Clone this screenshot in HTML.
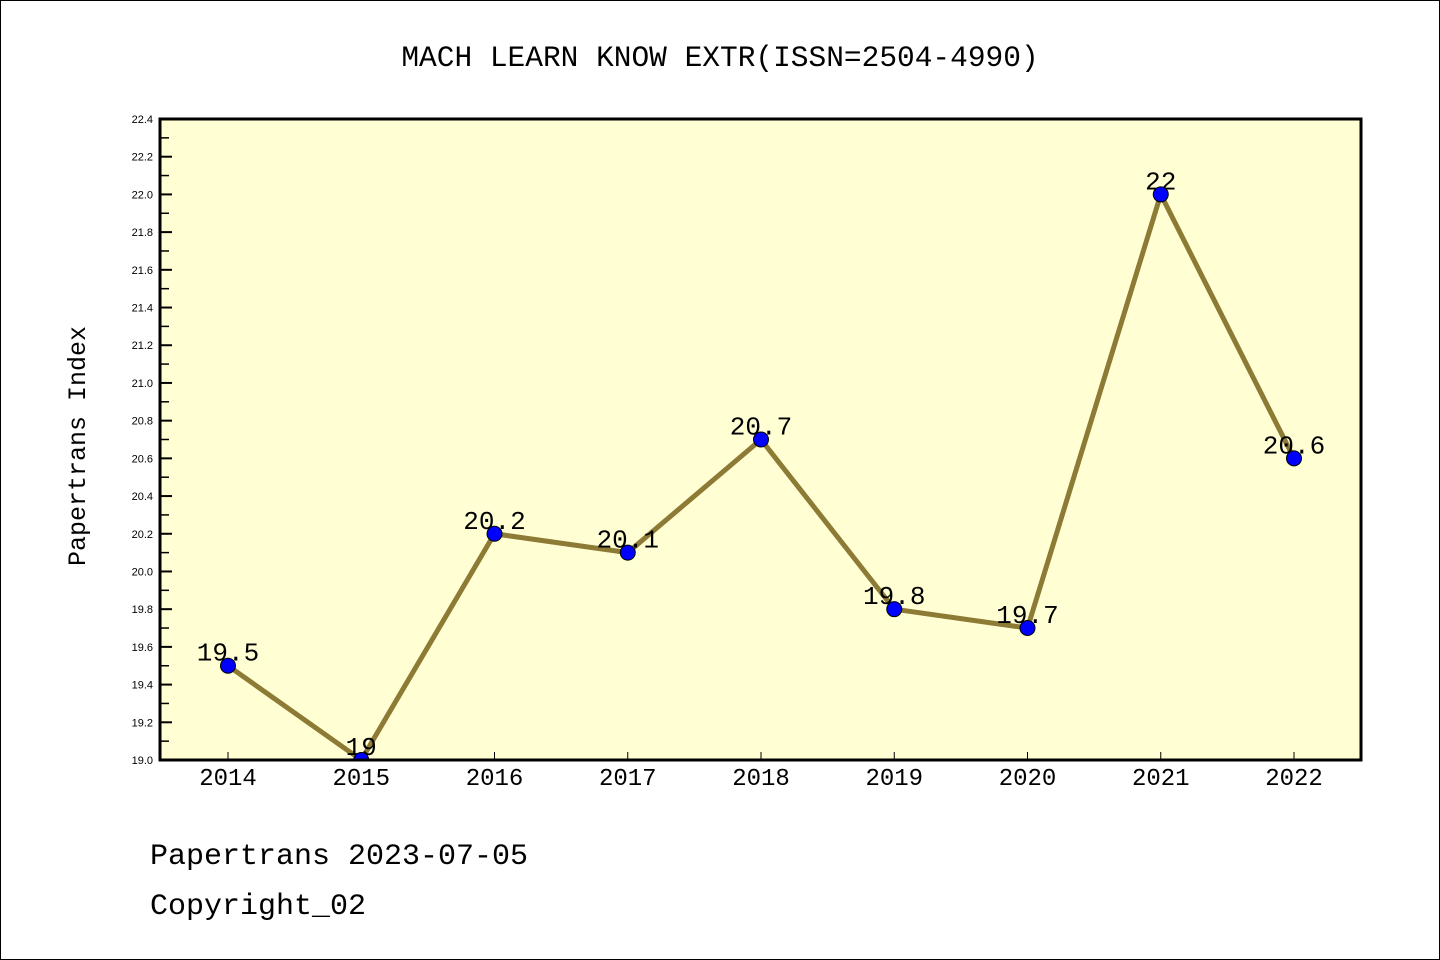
<!DOCTYPE html>
<html><head><meta charset="utf-8"><style>body{margin:0;background:#fff}svg{display:block}text{font-family:"Liberation Mono","DejaVu Sans Mono",monospace}text.sans{font-family:"Liberation Sans","DejaVu Sans",sans-serif}</style></head>
<body>
<svg id="chart" width="1440" height="960">
<rect x="0.5" y="0.5" width="1439" height="959" fill="#fff" stroke="#000"/>
<text x="720" y="66" font-size="29.5" text-anchor="middle">MACH LEARN KNOW EXTR(ISSN=2504-4990)</text>
<defs><clipPath id="pc"><rect x="160" y="119" width="1201" height="641"/></clipPath></defs>
<rect x="160" y="119" width="1201" height="641" fill="#ffffd3"/>
<g id="ticks"></g>
<g id="series" clip-path="url(#pc)"></g>
<rect x="160" y="119" width="1201" height="641" fill="none" stroke="#000" stroke-width="3"/>
<text transform="translate(85,446) rotate(-90)" font-size="25" text-anchor="middle">Papertrans Index</text>
<text x="150" y="864" font-size="30">Papertrans 2023-07-05</text>
<text x="150" y="914" font-size="30">Copyright_02</text>
</svg>
<script>
const years=[2014,2015,2016,2017,2018,2019,2020,2021,2022];
const values=[19.5,19.0,20.2,20.1,20.7,19.8,19.7,22.0,20.6];
const labels=["19.5","19","20.2","20.1","20.7","19.8","19.7","22","20.6"];
const yTicks=[19.0,19.2,19.4,19.6,19.8,20.0,20.2,20.4,20.6,20.8,21.0,21.2,21.4,21.6,21.8,22.0,22.2,22.4];
const yMin=19.0,yMax=22.4;
const NS="http://www.w3.org/2000/svg";
const sx=i=>228+i*(1294-228)/(years.length-1);
const sy=v=>760-(v-yMin)/(yMax-yMin)*641;
function mk(t,a,p){const e=document.createElementNS(NS,t);for(const k in a)e.setAttribute(k,a[k]);p.appendChild(e);return e;}
const tg=document.getElementById('ticks'),sg=document.getElementById('series');
yTicks.forEach((v,i)=>{
 const y=sy(v);
 const t=mk('line',{x1:160,x2:172,y1:y,y2:y,stroke:'#000','stroke-width':2},tg);
 
 
 const l=mk('text',{x:153,y:y+4,'font-size':11,'text-anchor':'end',class:'sans'},tg);l.textContent=v.toFixed(1);
 
 
 if(i<yTicks.length-1){const ym=sy(v+0.1);
 const m=mk('line',{x1:160,x2:169,y1:ym,y2:ym,stroke:'#000','stroke-width':1.5},tg);
 
 }
});
years.forEach((yr,i)=>{
 const x=sx(i);
 const t=mk('line',{x1:x,x2:x,y1:760,y2:752,stroke:'#000','stroke-width':1},tg);
 
 
 const l=mk('text',{x:x,y:785,'font-size':24,'text-anchor':'middle'},tg);l.textContent=yr;
 
 
});
const pl=mk('polyline',{points:values.map((v,i)=>sx(i)+','+sy(v)).join(' '),fill:'none',stroke:'#8c7a35','stroke-width':5,'stroke-linejoin':'round'},sg);


values.forEach((v,i)=>{
 const l=mk('text',{x:sx(i),y:sy(v)-5,'font-size':26,'text-anchor':'middle'},sg);l.textContent=labels[i];
 
 
 const c=mk('circle',{cx:sx(i),cy:sy(v),r:7.5,fill:'#0000ff',stroke:'#000','stroke-width':1},sg);
 
 
});
</script>
</body></html>
